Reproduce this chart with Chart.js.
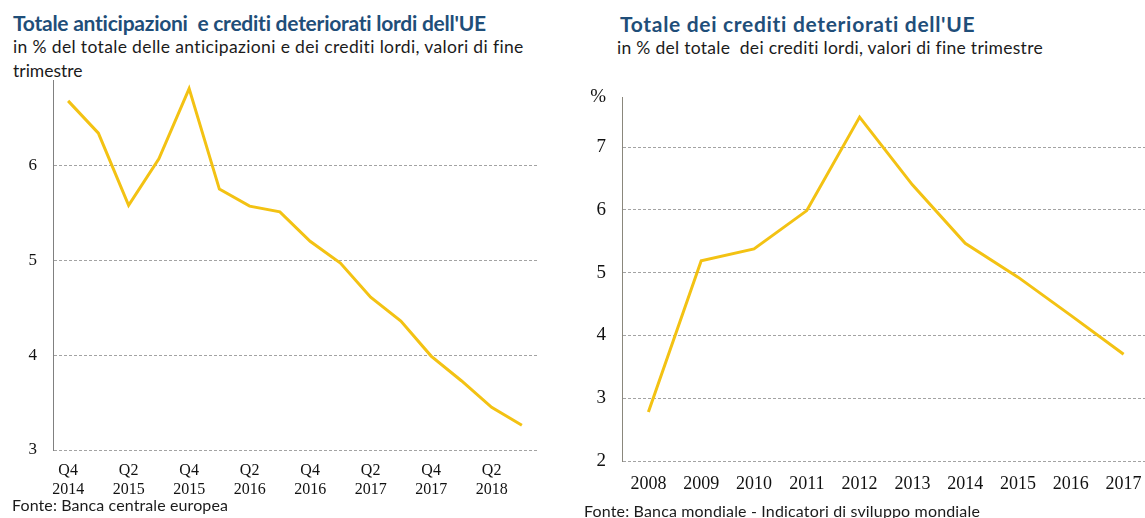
<!DOCTYPE html>
<html>
<head>
<meta charset="utf-8">
<script src="https://cdn.jsdelivr.net/npm/chart.js@4"></script>
<style>
html, body { margin: 0; padding: 0; }
body { width: 1145px; height: 518px; overflow: hidden; background: #fff; position: relative; font-family: Lato, "Open Sans", sans-serif; }
.t { position: absolute; white-space: pre; line-height: 1; color: #1b1b1b; }
.title { font-weight: bold; font-size: 21px; color: #1f4e79; }
.sub { font-size: 17.5px; }
.src { font-size: 16px; }
.box { position: absolute; top: 0; height: 518px; }
</style>
</head>
<body>
<div class="t title" style="left:13px;top:12px" data-w="474">Totale anticipazioni  e crediti deteriorati lordi dell'UE</div>
<div class="t sub" style="left:13px;top:38px" data-w="511">in % del totale delle anticipazioni e dei crediti lordi, valori di fine</div>
<div class="t sub" style="left:13px;top:62px">trimestre</div>
<div class="t title" style="left:620px;top:13px" data-w="356">Totale dei crediti deteriorati dell'UE</div>
<div class="t sub" style="left:617px;top:39px" data-w="426">in % del totale  dei crediti lordi, valori di fine trimestre</div>

<div class="box" style="left:0;width:545px"><canvas id="left"></canvas></div>
<div class="box" style="left:560px;width:600px"><canvas id="right"></canvas></div>

<div class="t src" style="left:12px;top:497px" data-w="216">Fonte: Banca centrale europea</div>
<div class="t src" style="left:584px;top:503px" data-w="396">Fonte: Banca mondiale - Indicatori di sviluppo mondiale</div>

<script>
// left chart: quarterly values
const quarters = ['Q4 2014', 'Q1 2015', 'Q2 2015', 'Q3 2015', 'Q4 2015', 'Q1 2016', 'Q2 2016', 'Q3 2016',
                  'Q4 2016', 'Q1 2017', 'Q2 2017', 'Q3 2017', 'Q4 2017', 'Q1 2018', 'Q2 2018', 'Q3 2018'];
const nplLoansAdvances = [6.68, 6.34, 5.58, 6.07, 6.81, 5.75, 5.57, 5.51, 5.20, 4.97, 4.61, 4.36, 3.99, 3.73, 3.45, 3.26];
const leftTicks = [3, 4, 5, 6];
const leftMin = 3;
const leftMax = 6.9;

// right chart: yearly values
const years = ['2008', '2009', '2010', '2011', '2012', '2013', '2014', '2015', '2016', '2017'];
const nplLoans = [2.78, 5.19, 5.38, 5.99, 7.48, 6.40, 5.47, 4.93, 4.32, 3.70];
const rightTicks = [2, 3, 4, 5, 6, 7];
const rightMin = 2;
const rightMax = 7.8;

const gold = '#f3c213';
const serif = 'Liberation Serif, Times New Roman, serif';
const gridGray = '#a3a3a3';

function lineChart(id, labels, values, opts) {
    return new Chart(document.getElementById(id), {
        type: 'line',
        data: {
            labels: labels,
            datasets: [{
                data: values,
                borderColor: gold,
                borderWidth: 3,
                pointRadius: 0,
                tension: 0,
                fill: false
            }]
        },
        options: {
            responsive: true,
            maintainAspectRatio: false,
            animation: false,
            layout: { padding: { top: opts.top, right: opts.right, bottom: 0, left: 0 } },
            plugins: { legend: { display: false }, tooltip: { enabled: false } },
            scales: {
                x: {
                    offset: true,
                    grid: { display: false, drawTicks: false },
                    border: { display: false },
                    ticks: {
                        autoSkip: false,
                        maxRotation: 0,
                        padding: opts.xPad,
                        color: '#111',
                        font: { family: serif, size: opts.font },
                        callback: opts.xLabel
                    },
                    afterFit: a => { a.height = opts.xHeight }
                },
                y: {
                    min: opts.min,
                    max: opts.max,
                    afterBuildTicks: a => { a.ticks = opts.ticks.map(v => ({ value: v })) },
                    afterFit: a => { a.width = opts.yWidth },
                    grid: {
                        drawTicks: false,
                        color: c => (c.tick && c.tick.value === opts.max) ? 'rgba(0,0,0,0)' : gridGray
                    },
                    border: { display: true, color: opts.axisColor, width: 1, dash: [3, 2] },
                    ticks: {
                        padding: 16,
                        color: '#111',
                        font: { family: serif, size: opts.font + 1 },
                        callback: v => v === opts.max ? '%' : v
                    }
                }
            }
        }
    });
}

lineChart('left', quarters, nplLoansAdvances, {
    top: 80, right: 8, xHeight: 68, yWidth: 53, xPad: 11, font: 16,
    min: leftMin, max: leftMax, ticks: leftTicks, axisColor: '#808080',
    xLabel: function (v, i) { return i % 2 ? '' : this.getLabelForValue(v).split(' ') }
});

lineChart('right', years, nplLoans, {
    top: 97, right: 10, xHeight: 57, yWidth: 62, xPad: 12, font: 18,
    min: rightMin, max: rightMax, ticks: rightTicks.concat([rightMax]), axisColor: '#8a877c',
    xLabel: function (v) { return this.getLabelForValue(v) }
});

// stretch the text lines to the widths they have in the picture
document.fonts.ready.then(() => {
    document.querySelectorAll('[data-w]').forEach(el => {
        var w = el.getBoundingClientRect().width
        var n = el.textContent.length
        el.style.letterSpacing = ((+el.dataset.w - w) / n) + 'px'
    })
})
</script>
</body>
</html>
